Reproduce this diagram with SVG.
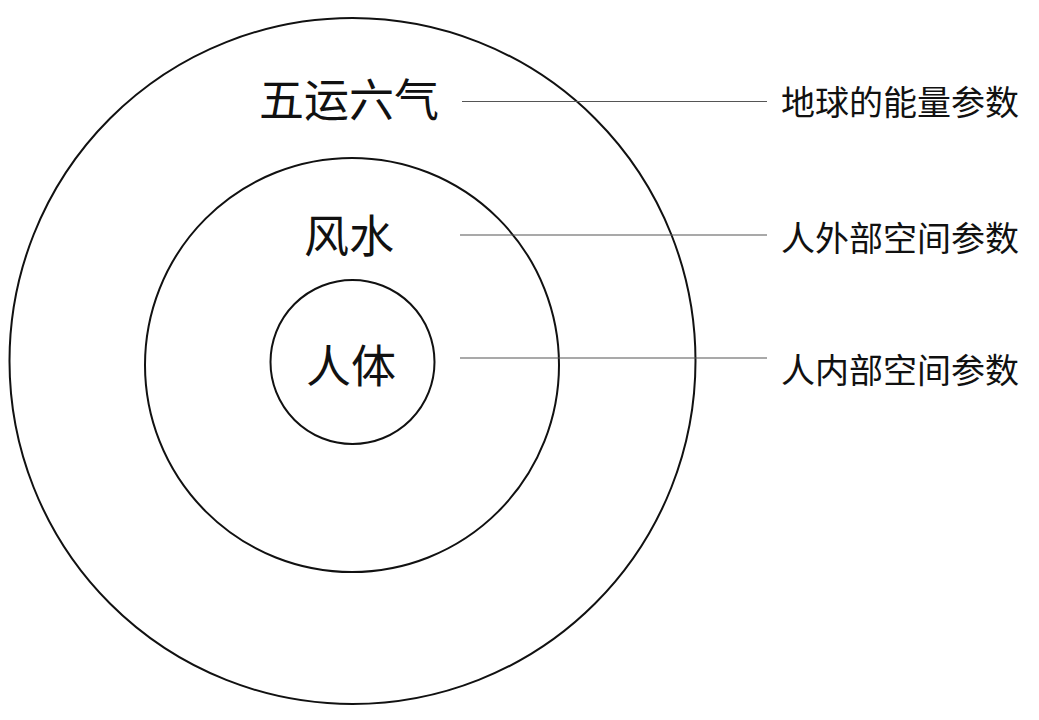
<svg xmlns="http://www.w3.org/2000/svg" width="1039" height="720" viewBox="0 0 1039 720">
<style>
.ring{fill:none;stroke:#111;stroke-width:2}
.lbl{font-family:"Noto Sans CJK SC","Noto Sans",sans-serif;fill:#111;dominant-baseline:central}
.big{font-size:45px;text-anchor:middle}
.side{font-size:34px}
.conn{stroke:#555;stroke-width:1.2;fill:none}
</style>
<rect width="1039" height="720" fill="#fff"/>
<g id="outer">
<circle class="ring" cx="352.5" cy="361" r="343"/>
<text class="lbl big" x="349" y="97">五运六气</text>
</g>
<g id="middle">
<circle class="ring" cx="352" cy="365" r="207"/>
<text class="lbl big" x="349" y="233">风水</text>
</g>
<g id="inner">
<circle class="ring" cx="352.5" cy="362" r="82"/>
<text class="lbl big" x="351" y="363">人体</text>
</g>
<g id="label-earth"><text class="lbl side" x="781" y="100">地球的能量参数</text></g>
<g id="label-outer-space"><text class="lbl side" x="781" y="236">人外部空间参数</text></g>
<g id="label-inner-space"><text class="lbl side" x="781" y="368">人内部空间参数</text></g>
<g id="connectors">
<line class="conn" x1="462" y1="101.5" x2="767" y2="101.5"/>
<line class="conn" x1="460" y1="235" x2="767" y2="235"/>
<line class="conn" x1="460" y1="358" x2="767" y2="358"/>
</g>
</svg>
